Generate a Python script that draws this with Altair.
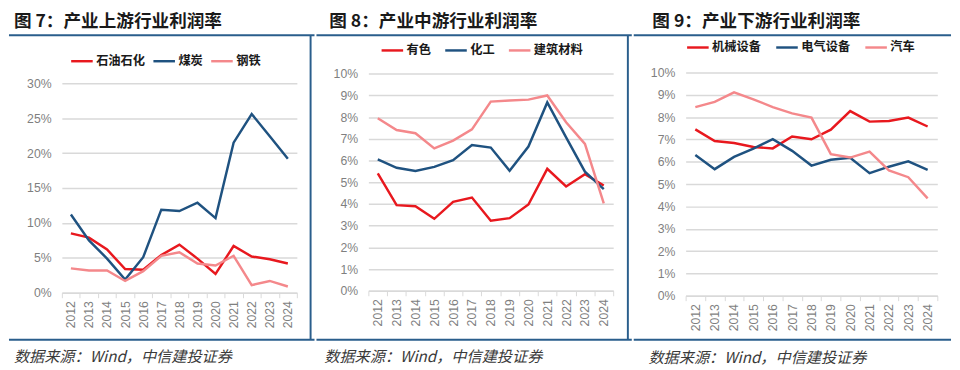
import altair as alt
import pandas as pd

# ---------------- data ----------------
years = [str(y) for y in range(2012, 2025)]

up_title = "图 7：产业上游行业利润率"
up_names = ["石油石化", "煤炭", "钢铁"]
up_petro = [8.5, 7.9, 6.2, 3.4, 3.3, 5.4, 6.9, 4.9, 2.7, 6.7, 5.2, 4.8, 4.2]
up_coal = [11.2, 7.5, 4.9, 1.9, 5.1, 11.9, 11.7, 12.9, 10.7, 21.5, 25.6, 22.4, 19.2]
up_steel = [3.5, 3.2, 3.2, 1.7, 3.1, 5.3, 5.8, 4.2, 3.9, 5.3, 1.1, 1.7, 0.9]
up_ticks = [0, 5, 10, 15, 20, 25, 30]

mid_title = "图 8：产业中游行业利润率"
mid_names = ["有色", "化工", "建筑材料"]
mid_nonferrous = [5.41, 3.95, 3.9, 3.32, 4.1, 4.3, 3.23, 3.35, 3.98, 5.62, 4.81, 5.37, 4.85]
mid_chem = [6.06, 5.67, 5.52, 5.71, 6.02, 6.72, 6.6, 5.53, 6.65, 8.68, 7.07, 5.49, 4.69]
mid_building = [7.95, 7.41, 7.26, 6.56, 6.92, 7.44, 8.72, 8.77, 8.81, 9.0, 7.77, 6.77, 4.03]
mid_ticks = [0, 1, 2, 3, 4, 5, 6, 7, 8, 9, 10]

down_title = "图 9：产业下游行业利润率"
down_names = ["机械设备", "电气设备", "汽车"]
down_machinery = [7.45, 6.93, 6.84, 6.66, 6.6, 7.13, 7.01, 7.44, 8.27, 7.8, 7.83, 7.98, 7.58]
down_electrical = [6.3, 5.67, 6.22, 6.59, 7.01, 6.49, 5.83, 6.09, 6.18, 5.49, 5.78, 6.02, 5.64]
down_auto = [8.45, 8.68, 9.11, 8.8, 8.45, 8.17, 7.98, 6.34, 6.19, 6.46, 5.61, 5.31, 4.36]
down_ticks = [0, 1, 2, 3, 4, 5, 6, 7, 8, 9, 10]

source_text = "数据来源：Wind，中信建投证券"

# ---------------- styling ----------------
CJK = "Noto Sans CJK SC"
LINE_COLORS = ["#E8181E", "#1F5280", "#F4888B"]
BORDER = "#2A5E8C"


def panel(title, names, series, ticks, ymax, geo):
    df = pd.DataFrame({
        "年份": years * len(names),
        "行业": [n for n in names for _ in years],
        "利润率": [v for s in series for v in s],
    })
    one = pd.DataFrame({"t": [title]})
    src = pd.DataFrame({"t": [source_text]})

    lines = alt.Chart(df).mark_line(strokeWidth=2.5).encode(
        x=alt.X("年份:O",
                scale=alt.Scale(type="band", paddingInner=0, paddingOuter=0),
                axis=alt.Axis(title=None, labelAngle=270, tickBand="extent",
                              tickSize=5, tickColor="#d9d9d9", domainColor="#d9d9d9",
                              domainWidth=1.5, labelPadding=3, grid=False)),
        y=alt.Y("利润率:Q",
                scale=alt.Scale(domain=[0, ymax], nice=False, zero=True),
                axis=alt.Axis(title=None, values=ticks,
                              labelExpr="datum.value + '%'", domain=False, ticks=False,
                              labelPadding=11, gridColor="#d9d9d9", gridWidth=1.5)),
        color=alt.Color("行业:N",
                        scale=alt.Scale(domain=names, range=LINE_COLORS),
                        sort=names,
                        legend=alt.Legend(title=None, orient="none", direction="horizontal",
                                          legendX=geo["lx"], legendY=geo["ly"],
                                          columnPadding=geo["cp"])),
    )

    title_layer = alt.Chart(one).mark_text(
        align="left", baseline="middle", fontSize=18, fontWeight="bold",
        font=CJK, color="#1a1a1a"
    ).encode(text="t:N", x=alt.value(geo["tx"]), y=alt.value(-51))

    source_layer = alt.Chart(src).mark_text(
        align="left", baseline="middle", fontSize=15.5, fontStyle="italic",
        font=CJK, color="#3a3a3a"
    ).encode(text="t:N", x=alt.value(geo["sx"]), y=alt.value(geo["sy"]))

    top_rule = alt.Chart(one).mark_rule(color=BORDER, strokeWidth=2).encode(
        x=alt.value(geo["fl"]), x2=alt.value(geo["fr"]), y=alt.value(-38))
    bottom_rule = alt.Chart(one).mark_rule(color=BORDER, strokeWidth=2).encode(
        x=alt.value(geo["fl"]), x2=alt.value(geo["fr"]), y=alt.value(273))

    layers = [top_rule, bottom_rule, lines, title_layer, source_layer]
    if geo["div"] is not False:
        divider = alt.Chart(one).mark_rule(color=BORDER, strokeWidth=2).encode(
            x=alt.value(geo["div"]), y=alt.value(-38), y2=alt.value(273))
        layers.insert(0, divider)

    return alt.layer(*layers).properties(width=geo["w"], height=geo["h"])


p1 = panel(up_title, up_names, [up_petro, up_coal, up_steel], up_ticks, 31.54,
           dict(w=240, h=225, fl=-54, fr=258, div=254, tx=-49,
                lx=8, ly=-24, cp=2, sx=-49, sy=291))
p2 = panel(mid_title, mid_names, [mid_nonferrous, mid_chem, mid_building], mid_ticks, 10.06,
           dict(w=250, h=223, fl=-53, fr=269, div=265, tx=-40,
                lx=12, ly=-35, cp=8, sx=-45, sy=291))
p3 = panel(down_title, down_names, [down_machinery, down_electrical, down_auto], down_ticks, 10,
           dict(w=257, h=228, fl=-53, fr=271, div=False, tx=-34,
                lx=0, ly=-38, cp=9, sx=-38, sy=292))

chart = alt.hconcat(p1, p2, p3, spacing=0).resolve_scale(
    color="independent", x="independent", y="independent"
).properties(
    padding={"top": 2, "left": 0, "right": 0, "bottom": 0}
).configure_view(strokeWidth=0).configure_axis(
    labelFont="Liberation Sans", labelFontSize=12.5, labelColor="#7f7f7f"
).configure_legend(
    labelFont=CJK, labelFontSize=12.5, labelFontWeight="bold", labelColor="#1a1a1a",
    symbolType="stroke", symbolSize=484, symbolStrokeWidth=2.5, labelOffset=2,
    padding=0
)

chart.save("out.html", embed_options={"renderer": "svg", "actions": False})
